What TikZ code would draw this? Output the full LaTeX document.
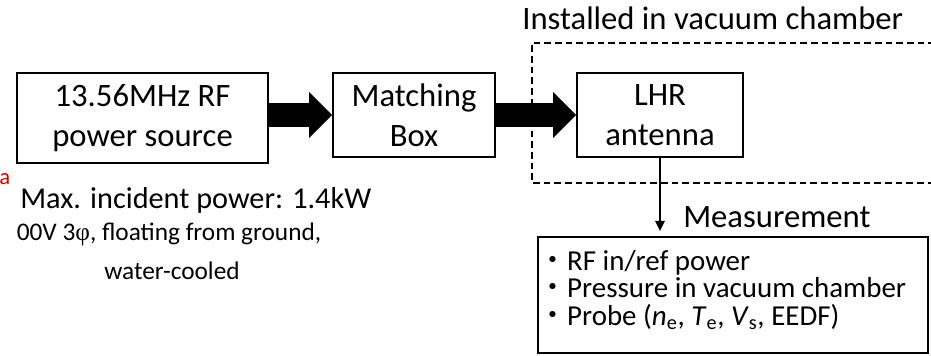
\documentclass[tikz,border=0pt]{standalone}
\usepackage{fontspec}
\setmainfont{Carlito}
\newfontfamily\phifont{Liberation Serif}
\newfontfamily\jpfont{Noto Sans CJK JP}
\usepackage{tikz}
\usetikzlibrary{arrows.meta,positioning}
\definecolor{rfInk}{HTML}{000000}
\definecolor{rfRed}{HTML}{E00000}
\tikzset{
  rf diagram/.style={x=0.75pt, y=-0.75pt, text=rfInk},
  rf box/.style={draw=rfInk, fill=white, line width=1.2pt, align=center,
    inner sep=0pt, font=\fontsize{24.5}{30}\selectfont},
  rf power/.style={draw=rfInk, line width=18pt,
    -{Triangle[length=17.25pt, width=34.5pt, line width=0pt]}},
  rf probe/.style={draw=rfInk, line width=1.6pt,
    -{Triangle[length=7.5pt, width=7.5pt, line width=0pt]}},
  rf chamber/.style={draw=rfInk, line width=1pt, dash pattern=on 5pt off 3pt},
  rf big/.style={font=\fontsize{24.5}{29}\selectfont, inner sep=0pt, anchor=base west},
  rf small/.style={font=\fontsize{19}{22}\selectfont, inner sep=0pt, anchor=base},
  rf item/.style={font=\fontsize{21.7}{25}\selectfont, inner sep=0pt, anchor=base west}
}
\begin{document}
\begin{tikzpicture}[rf diagram]
\path[fill=white, use as bounding box] (0,0) rectangle (931,355);
% chamber outline, open to the right
\draw[rf chamber] (935,43) -- (532,43) -- (532,183) -- (935,183);
\node[rf big] (chamber) at (522,29) {Installed in vacuum chamber};
% power chain
\node[rf box, minimum width=188.25pt, minimum height=67.5pt] (src) at (142.5,118)
  {13.56MHz RF\\power source};
\node[rf box, minimum width=121.5pt, minimum height=63pt] (match) at (414,115)
  {Matching\\Box};
\node[rf box, minimum width=124.5pt, minimum height=63pt] (ant) at (660,115)
  {LHR\\antenna};
\draw[rf power] (src.east |- match.west) -- (match.west);
\draw[rf power] (match.east) -- (ant.west);
% source specs
\node[text=rfRed, font=\fontsize{17}{19}\selectfont, inner sep=0pt, anchor=base west]
  (mark) at (-1,184) {a};
\node[rf big, font=\fontsize{22.7}{27}\selectfont] (maxpow) at (20,208)
  {Max. incident power: 1.4kW};
\node[rf small] (spec) at (169,240) {00V 3{\phifont φ}, floating from ground,};
\node[rf small] (cool) at (172,279) {water-cooled};
% diagnostics
\node[draw=rfInk, line width=1.2pt, minimum width=292.5pt, minimum height=87pt,
  inner sep=0pt] (meas) at (733,295) {};
\node[rf big] (meastitle) at (683,227) {Measurement};
\draw[rf probe, shorten >=4pt] (ant.south) -- (ant.south |- meas.north);
\foreach \txt [count=\i] in {{RF in/ref power},{Pressure in vacuum chamber},
  {Probe (\textit{n}\textsubscript{e}, \textit{T}\textsubscript{e}, \textit{V}\textsubscript{s}, EEDF)}}
  \node[rf item] (item\i) at (538,{242.5+27.5*\i}) {{\jpfont ・}\txt};
\end{tikzpicture}
\end{document}
